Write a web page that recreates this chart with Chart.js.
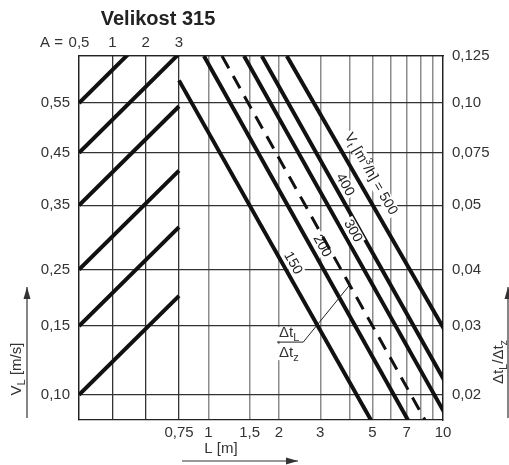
<!DOCTYPE html>
<html>
<head>
<meta charset="utf-8">
<script src="https://cdn.jsdelivr.net/npm/chart.js@4.4.0/dist/chart.umd.min.js"></script>
<style>
  html, body { margin: 0; padding: 0; background: #fff; }
</style>
</head>
<body>
<canvas id="chart" width="509" height="465"></canvas>
<script>
const FONT = "'Liberation Sans', Arial, sans-serif";

// Rows shared by both vertical axes (left V_L, right Δt_L/Δt_z)
const ratioLabels = ['0,02', '0,03', '0,04', '0,05', '0,075', '0,10', '0,125'];
const velocityLabels = ['0,10', '0,15', '0,25', '0,35', '0,45', '0,55', ''];
// the nomogram's vertical scale is irregular: height of each row in % of the plot
const rowHeights = [6.9, 25.8, 41.3, 59.0, 73.4, 87.1, 100];

// Left part: A columns, right part: L [m] on a log scale
const aLabels = ['0,5', '1', '2', '3'];
const lGrid = [0.75, 1, 1.5, 2, 3, 4, 5, 6, 7, 8, 9, 10];
const lLabels = ['0,75', '1', '1,5', '2', '3', '', '5', '', '7', '', '', '10'];

// A lines start on the left edge at each V_L row and rise across the A part
const aLineRise = 27.2;

// V_t lines [m3/h]: where each one enters (L, height) and where it reaches the bottom (L)
const flowNames = ['150', '200', '300', '400', '500'];
const flowStartL = [0.75, 0.958, 1.42, 1.69, 2.16];
const flowStartH = [93.3, 100, 100, 100, 100];
const flowEndL = [4.93, 7.09, 10.55, 12.6, 16.9];

// dashed example line (Δt_L/Δt_z reading)
const dashStart = { x: 1.144, y: 100 };
const dashEnd = { x: 8.38, y: 0 };

// log axis: the A part takes this many decades left of L = 0,75
const aSpan = 0.426;
const xMin = lGrid[0] / Math.pow(10, aSpan);
const aGrid = aLabels.map((_, i) => lGrid[0] / Math.pow(10, aSpan * (aLabels.length - 1 - i) / (aLabels.length - 1)));
const xGrid = aGrid.slice(0, 3).concat(lGrid);
const xLabels = ['', '', ''].concat(lLabels);

function lineSet(data) {
  return {
    data: data,
    borderColor: '#111',
    borderWidth: 4,
    borderCapStyle: 'butt',
    pointRadius: 0,
    fill: false,
    tension: 0,
    clip: 0,
    xAxisID: 'x',
    yAxisID: 'y'
  };
}

const datasets = [];
rowHeights.slice(0, 6).forEach((h) => {
  datasets.push(lineSet([{ x: aGrid[0], y: h }, { x: aGrid[3], y: h + aLineRise }]));
});
flowNames.forEach((n, i) => {
  datasets.push(lineSet([{ x: flowStartL[i], y: flowStartH[i] }, { x: flowEndL[i], y: 0 }]));
});
const dashed = lineSet([dashStart, dashEnd]);
dashed.borderWidth = 3;
dashed.borderDash = [14, 9];
datasets.push(dashed);

// label spots for the flow lines (L, height)
const flowLabelAt = [[2.295, 43.1], [3.05, 47.8], [4.13, 51.9], [3.82, 64.6], [4.93, 67.6]];

function partsWidth(ctx, parts, size) {
  let w = 0;
  parts.forEach(([t, k]) => {
    ctx.font = (k ? Math.round(size * 0.7) : size) + 'px ' + FONT;
    w += ctx.measureText(t).width;
  });
  return w;
}

function drawParts(ctx, parts, size, x, y) {
  ctx.textAlign = 'left';
  ctx.textBaseline = 'middle';
  parts.forEach(([t, k]) => {
    ctx.font = (k ? Math.round(size * 0.7) : size) + 'px ' + FONT;
    const dy = k === 'sub' ? size * 0.3 : k === 'sup' ? -size * 0.32 : 0;
    ctx.fillText(t, x, y + dy);
    x += ctx.measureText(t).width;
  });
}

function arrow(ctx, x1, y1, x2, y2) {
  ctx.beginPath();
  ctx.moveTo(x1, y1);
  ctx.lineTo(x2, y2);
  ctx.stroke();
  const a = Math.atan2(y2 - y1, x2 - x1), len = 12, w = 3.5;
  ctx.beginPath();
  ctx.moveTo(x2, y2);
  ctx.lineTo(x2 - len * Math.cos(a) + w * Math.sin(a), y2 - len * Math.sin(a) - w * Math.cos(a));
  ctx.lineTo(x2 - len * Math.cos(a) - w * Math.sin(a), y2 - len * Math.sin(a) + w * Math.cos(a));
  ctx.closePath();
  ctx.fill();
}

function flowLabel(chart, i) {
  const ctx = chart.ctx;
  const xs = chart.scales.x, ys = chart.scales.y;
  const x1 = xs.getPixelForValue(flowStartL[i]), y1 = ys.getPixelForValue(flowStartH[i]);
  const x2 = xs.getPixelForValue(flowEndL[i]), y2 = ys.getPixelForValue(0);
  const angle = Math.atan2(y2 - y1, x2 - x1);
  const px = xs.getPixelForValue(flowLabelAt[i][0]);
  const py = ys.getPixelForValue(flowLabelAt[i][1]);
  const parts = i === 4
    ? [['V', null], ['t', 'sub'], [' [m', null], ['3', 'sup'], ['/h] = ' + flowNames[i], null]]
    : [[flowNames[i], null]];
  const w = partsWidth(ctx, parts, 14);
  ctx.save();
  ctx.translate(px, py);
  ctx.rotate(angle);
  ctx.fillStyle = '#fff';
  ctx.fillRect(-w / 2 - 2, -7, w + 4, 14);
  ctx.fillStyle = '#222';
  drawParts(ctx, parts, 14, -w / 2, 0);
  ctx.restore();
}

const nomogramText = {
  id: 'nomogramText',
  beforeDatasetsDraw(chart) {
    for (let i = 0; i < flowNames.length; i++) flowLabel(chart, i);
  },
  afterDatasetsDraw(chart) {
    // the 300 label breaks the 400 line
    flowLabel(chart, 2);

    const ctx = chart.ctx;
    const xs = chart.scales.x, ys = chart.scales.y;
    ctx.save();
    ctx.fillStyle = '#222';
    ctx.strokeStyle = '#333';
    ctx.lineWidth = 1.2;

    // title and A =
    ctx.font = 'bold 20px ' + FONT;
    ctx.textAlign = 'center';
    ctx.textBaseline = 'middle';
    ctx.fillText('Velikost 315', 158, 19);
    ctx.font = '15px ' + FONT;
    ctx.textAlign = 'right';
    ctx.fillStyle = '#333';
    ctx.fillText('A =', 63, 43);

    // left axis title + arrow
    const vParts = [['V', null], ['L', 'sub'], [' [m/s]', null]];
    let w = partsWidth(ctx, vParts, 15);
    ctx.save();
    ctx.translate(17, 369);
    ctx.rotate(-Math.PI / 2);
    drawParts(ctx, vParts, 15, -w / 2, 0);
    ctx.restore();
    arrow(ctx, 27, 418, 27, 287);

    // right axis title + arrow
    const rParts = [['\u0394t', null], ['L', 'sub'], ['/\u0394t', null], ['z', 'sub']];
    w = partsWidth(ctx, rParts, 15);
    ctx.save();
    ctx.translate(499, 362);
    ctx.rotate(-Math.PI / 2);
    drawParts(ctx, rParts, 15, -w / 2, 0);
    ctx.restore();
    arrow(ctx, 508, 418, 508, 287);

    // bottom axis title + arrow
    ctx.font = '15px ' + FONT;
    ctx.textAlign = 'center';
    ctx.textBaseline = 'middle';
    ctx.fillText('L [m]', 221, 449);
    arrow(ctx, 182, 461, 298, 461);

    // Δt_L / Δt_z callout pointing at the dashed line
    const fx = xs.getPixelForValue(2) - 2;
    const fy = ys.getPixelForValue(21.4);
    const topParts = [['\u0394t', null], ['L', 'sub']];
    const botParts = [['\u0394t', null], ['z', 'sub']];
    w = partsWidth(ctx, topParts, 15);
    ctx.fillStyle = '#fff';
    ctx.fillRect(fx, fy - 15, w + 6, 14);
    ctx.fillRect(fx, fy + 2, w + 6, 16);
    ctx.fillStyle = '#333';
    drawParts(ctx, topParts, 15, fx + 2, fy - 9);
    drawParts(ctx, botParts, 15, fx + 2, fy + 11);
    const dx1 = xs.getPixelForValue(dashStart.x), dy1 = ys.getPixelForValue(dashStart.y);
    const dx2 = xs.getPixelForValue(dashEnd.x), dy2 = ys.getPixelForValue(dashEnd.y);
    const ty = ys.getPixelForValue(37.1);
    const tx = dx1 + (dx2 - dx1) * (ty - dy1) / (dy2 - dy1);
    ctx.lineWidth = 1;
    ctx.strokeStyle = '#222';
    ctx.beginPath();
    ctx.moveTo(fx, fy);
    ctx.lineTo(fx + w + 6, fy);
    ctx.lineTo(tx, ty);
    ctx.stroke();
    ctx.restore();
  }
};

new Chart(document.getElementById('chart'), {
  type: 'line',
  data: { datasets: datasets },
  options: {
    responsive: false,
    animation: false,
    devicePixelRatio: 1,
    layout: { padding: 0 },
    plugins: { legend: { display: false }, tooltip: { enabled: false } },
    scales: {
      x: {
        type: 'logarithmic',
        position: 'bottom',
        min: xMin,
        max: 10,
        bounds: 'data',
        afterBuildTicks: (s) => { s.ticks = xGrid.map((v) => ({ value: v })); },
        afterFit: (s) => { s.height = 45; },
        ticks: {
          autoSkip: false, maxRotation: 0, minRotation: 0, padding: 4,
          color: '#333', font: { family: FONT, size: 15 },
          callback: (v, i) => xLabels[i]
        },
        grid: {
          drawTicks: false,
          color: (c) => (c.index >= 1 && c.index <= 3 ? '#333' : '#8c8c8c'),
          lineWidth: (c) => (c.index >= 1 && c.index <= 3 ? 1.3 : 1.5)
        },
        border: { color: '#222', width: 1.3 }
      },
      x2: {
        type: 'logarithmic',
        position: 'top',
        min: xMin,
        max: 10,
        bounds: 'data',
        afterBuildTicks: (s) => { s.ticks = aGrid.map((v) => ({ value: v })); },
        afterFit: (s) => { s.height = 56; },
        ticks: {
          autoSkip: false, maxRotation: 0, minRotation: 0, padding: 4,
          color: '#333', font: { family: FONT, size: 15 },
          callback: (v, i) => aLabels[i]
        },
        grid: { display: false, drawTicks: false },
        border: { color: '#222', width: 1.3 }
      },
      y: {
        type: 'linear',
        position: 'left',
        min: 0,
        max: 100,
        afterBuildTicks: (s) => { s.ticks = rowHeights.map((v) => ({ value: v })); },
        afterFit: (s) => { s.width = 79; },
        ticks: {
          autoSkip: false, padding: 9,
          color: '#333', font: { family: FONT, size: 15 },
          callback: (v, i) => velocityLabels[i]
        },
        grid: { drawTicks: false, color: '#333', lineWidth: 1.2 },
        border: { color: '#222', width: 1.3 }
      },
      y2: {
        type: 'linear',
        position: 'right',
        min: 0,
        max: 100,
        afterBuildTicks: (s) => { s.ticks = rowHeights.map((v) => ({ value: v })); },
        afterFit: (s) => { s.width = 66; },
        ticks: {
          autoSkip: false, padding: 9,
          color: '#333', font: { family: FONT, size: 15 },
          callback: (v, i) => ratioLabels[i]
        },
        grid: { display: false, drawTicks: false },
        border: { color: '#222', width: 1.3 }
      }
    }
  },
  plugins: [nomogramText]
});
</script>
</body>
</html>
